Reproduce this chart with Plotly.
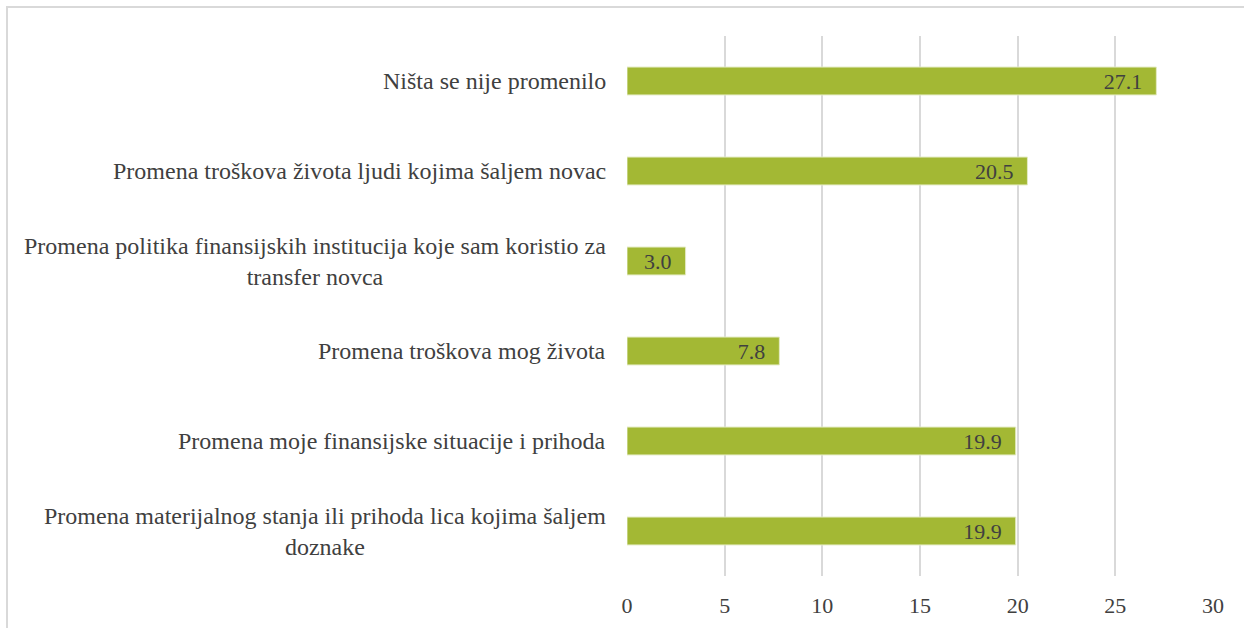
import plotly.graph_objects as go

categories = [
    "Promena materijalnog stanja ili prihoda lica kojima šaljem<br>doznake",
    "Promena moje finansijske situacije i prihoda",
    "Promena troškova mog života",
    "Promena politika finansijskih institucija koje sam koristio za<br>transfer novca",
    "Promena troškova života ljudi kojima šaljem novac",
    "Ništa se nije promenilo",
]
values = [19.9, 19.9, 7.8, 3.0, 20.5, 27.1]
tick_vals = [0, 5, 10, 15, 20, 25, 30]

FONT = "Times New Roman, Tinos, Liberation Serif, DejaVu Serif, serif"
TXT = "#404040"
CAT_SIZE = 24
NUM_SIZE = 22

fig = go.Figure()
fig.add_trace(go.Bar(
    y=categories, x=values, orientation="h",
    marker=dict(color="#A3B834", line=dict(color="#E4EBC4", width=1)),
    width=0.31,
    text=[f"{v:.1f}&nbsp;&nbsp;" for v in values],
    textposition="inside", insidetextanchor="end",
    textfont=dict(family=FONT, size=NUM_SIZE, color=TXT),
    cliponaxis=False,
))

annotations = []
for c in categories:
    annotations.append(dict(
        x=-0.033, xref="paper", y=c, yref="y",
        text=c, showarrow=False, xanchor="right", yanchor="middle",
        align="center", font=dict(family=FONT, size=CAT_SIZE, color=TXT),
    ))

fig.update_layout(
    width=1244, height=628,
    margin=dict(l=627, r=31, t=36, b=52, autoexpand=False),
    paper_bgcolor="white", plot_bgcolor="white",
    showlegend=False,
    annotations=annotations,
    font=dict(family=FONT),
    uniformtext=dict(minsize=NUM_SIZE, mode="show"),
    xaxis=dict(range=[0, 30], tickvals=tick_vals, showgrid=True,
               gridcolor="#D9D9D9", gridwidth=1.5, zeroline=False,
               ticks="", ticklabelstandoff=14, automargin=False,
               tickfont=dict(family=FONT, size=NUM_SIZE, color=TXT),
               showline=False),
    yaxis=dict(showticklabels=False, showgrid=False, zeroline=False,
               automargin=False,
               categoryorder="array", categoryarray=categories),
    shapes=[dict(type="rect", xref="paper", yref="paper",
                 x0=(7 - 627) / 586, x1=(1250 - 627) / 586,
                 y0=-0.2, y1=1 + (36 - 7) / 540,
                 line=dict(color="#D9D9D9", width=2), layer="below")],
)

fig.write_html("out.html", config={"displayModeBar": False},
               post_script="document.body.style.margin='0';document.body.style.overflow='hidden';")
